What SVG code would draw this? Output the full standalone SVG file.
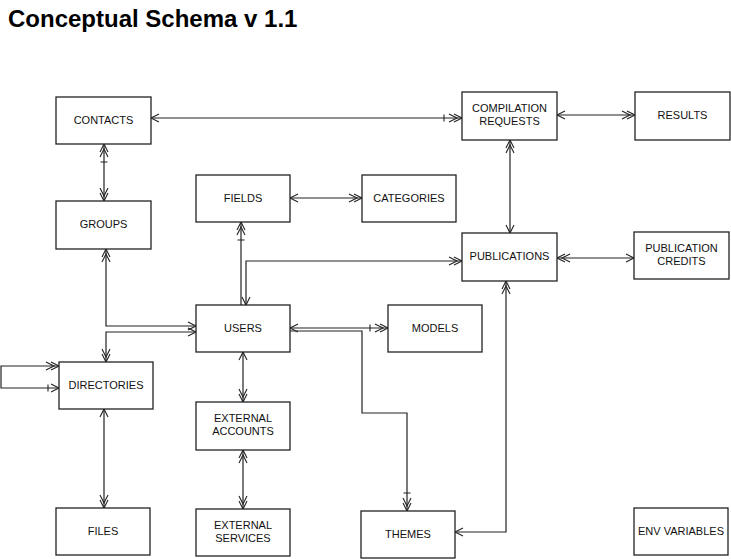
<svg xmlns="http://www.w3.org/2000/svg" width="731" height="559" viewBox="0 0 731 559">
<style>
.box rect{fill:#fff;stroke:#222;stroke-width:1.3}
.box text{font-family:"Liberation Sans",Arial,sans-serif;font-size:11px;fill:#111;text-anchor:middle}
.title{font-family:"Liberation Sans",Arial,sans-serif;font-size:24px;font-weight:bold;fill:#000}
#connectors path{fill:none;stroke:#222;stroke-width:1.2}
.mk{fill:none;stroke:#222;stroke-width:1.1}
</style>
<defs>
<marker id="one" viewBox="-22 -6 24 12" refX="0" refY="0" markerWidth="24" markerHeight="12" markerUnits="userSpaceOnUse" orient="auto-start-reverse" overflow="visible"><path class="mk" d="M-8,-4 L0,0 L-8,4"/></marker>
<marker id="many" viewBox="-22 -6 24 12" refX="0" refY="0" markerWidth="24" markerHeight="12" markerUnits="userSpaceOnUse" orient="auto-start-reverse" overflow="visible"><path class="mk" d="M-8,-4 L0,0 L-8,4 M-13,-4 L-5,0 L-13,4"/></marker>
<marker id="tmany" viewBox="-22 -6 24 12" refX="0" refY="0" markerWidth="24" markerHeight="12" markerUnits="userSpaceOnUse" orient="auto-start-reverse" overflow="visible"><path class="mk" d="M-8,-4 L0,0 L-8,4 M-13,-4 L-5,0 L-13,4 M-18,-3.5 L-18,3.5"/></marker>
<marker id="tone" viewBox="-22 -6 24 12" refX="0" refY="0" markerWidth="24" markerHeight="12" markerUnits="userSpaceOnUse" orient="auto-start-reverse" overflow="visible"><path class="mk" d="M-8,-4 L0,0 L-8,4 M-11,-3.5 L-11,3.5"/></marker>
</defs>
<text class="title" x="8" y="27">Conceptual Schema v 1.1</text>
<g id="connectors">
<path d="M151,118 L462,118" marker-start="url(#one)" marker-end="url(#tmany)"/>
<path d="M104,144 L104,201" marker-start="url(#tmany)" marker-end="url(#many)"/>
<path d="M557,115 L635,115" marker-start="url(#one)" marker-end="url(#many)"/>
<path d="M510,140 L510,233" marker-start="url(#many)" marker-end="url(#one)"/>
<path d="M290,198 L362,198" marker-start="url(#one)" marker-end="url(#many)"/>
<path d="M241,222 L241,305" marker-start="url(#tmany)"/>
<path d="M246,305 L246,261 L462,261" marker-start="url(#one)" marker-end="url(#many)"/>
<path d="M106,249 L106,326 L196,326" marker-start="url(#many)" marker-end="url(#one)"/>
<path d="M196,332 L106,332 L106,362" marker-start="url(#one)" marker-end="url(#many)"/>
<path d="M290,328 L388,328" marker-start="url(#one)" marker-end="url(#tmany)"/>
<path d="M290,331 L362,331 L362,413 L407,413 L407,511" marker-end="url(#tmany)"/>
<path d="M557,258 L634,258" marker-start="url(#many)" marker-end="url(#one)"/>
<path d="M455,532 L506,532 L506,281" marker-start="url(#one)" marker-end="url(#many)"/>
<path d="M59,366 L1,366 L1,388 L59,388" marker-start="url(#many)" marker-end="url(#tone)"/>
<path d="M104,409 L104,508" marker-start="url(#one)" marker-end="url(#many)"/>
<path d="M243,352 L243,402" marker-start="url(#one)" marker-end="url(#many)"/>
<path d="M243,450 L243,509" marker-start="url(#many)" marker-end="url(#many)"/>
</g>
<g id="contacts" class="box"><rect x="56" y="97" width="95" height="47"/><text x="103.5" y="124">CONTACTS</text></g>
<g id="compilation-requests" class="box"><rect x="462" y="92" width="95" height="48"/><text x="509.5" y="112">COMPILATION</text><text x="509.5" y="125">REQUESTS</text></g>
<g id="results" class="box"><rect x="635" y="92" width="95" height="48"/><text x="682.5" y="119">RESULTS</text></g>
<g id="groups" class="box"><rect x="56" y="201" width="95" height="48"/><text x="103.5" y="228">GROUPS</text></g>
<g id="fields" class="box"><rect x="196" y="175" width="94" height="47"/><text x="243" y="202">FIELDS</text></g>
<g id="categories" class="box"><rect x="362" y="175" width="94" height="47"/><text x="409" y="202">CATEGORIES</text></g>
<g id="publications" class="box"><rect x="462" y="233" width="95" height="48"/><text x="509.5" y="260">PUBLICATIONS</text></g>
<g id="publication-credits" class="box"><rect x="634" y="232" width="95" height="47"/><text x="681.5" y="252">PUBLICATION</text><text x="681.5" y="265">CREDITS</text></g>
<g id="users" class="box"><rect x="196" y="305" width="94" height="47"/><text x="243" y="332">USERS</text></g>
<g id="models" class="box"><rect x="388" y="305" width="94" height="47"/><text x="435" y="332">MODELS</text></g>
<g id="directories" class="box"><rect x="59" y="362" width="94" height="47"/><text x="106" y="389">DIRECTORIES</text></g>
<g id="external-accounts" class="box"><rect x="196" y="402" width="94" height="48"/><text x="243" y="422">EXTERNAL</text><text x="243" y="435">ACCOUNTS</text></g>
<g id="files" class="box"><rect x="56" y="508" width="94" height="47"/><text x="103" y="535">FILES</text></g>
<g id="external-services" class="box"><rect x="196" y="509" width="94" height="47"/><text x="243" y="529">EXTERNAL</text><text x="243" y="542">SERVICES</text></g>
<g id="themes" class="box"><rect x="361" y="511" width="94" height="47"/><text x="408" y="538">THEMES</text></g>
<g id="env-variables" class="box"><rect x="634" y="508" width="94" height="47"/><text x="681" y="535">ENV VARIABLES</text></g>
</svg>
